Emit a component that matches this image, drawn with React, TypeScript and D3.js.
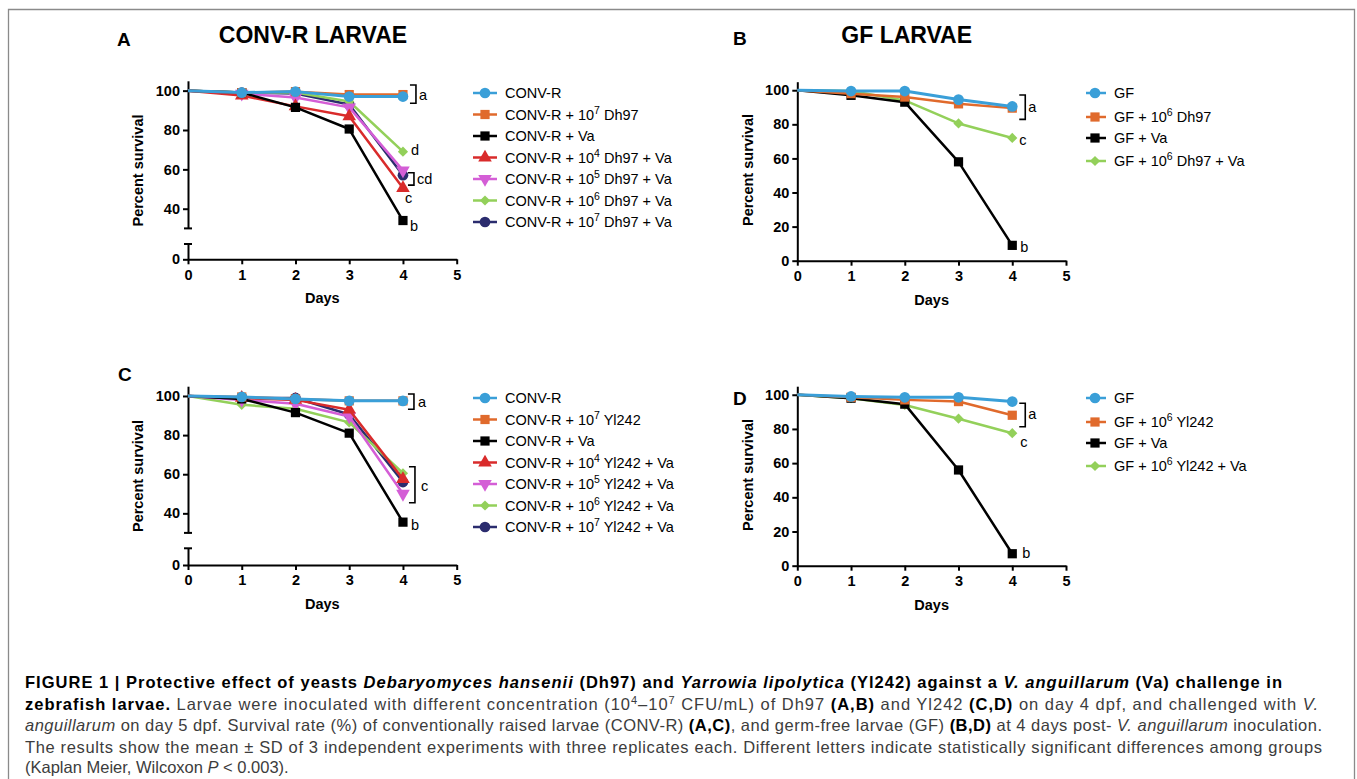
import React, { useEffect, useRef } from 'react';
import * as d3 from 'd3';

// ---- data ----
const days = [0, 1, 2, 3, 4];
const dayTicks = [0, 1, 2, 3, 4, 5];
const brokenTicks = [40, 60, 80, 100];
const fullTicks = [0, 20, 40, 60, 80, 100];

const labelsA = ['CONV-R', 'CONV-R + 10^7 Dh97', 'CONV-R + Va', 'CONV-R + 10^4 Dh97 + Va', 'CONV-R + 10^5 Dh97 + Va', 'CONV-R + 10^6 Dh97 + Va', 'CONV-R + 10^7 Dh97 + Va'];
const labelsB = ['GF', 'GF + 10^6 Dh97', 'GF + Va', 'GF + 10^6 Dh97 + Va'];
const labelsC = ['CONV-R', 'CONV-R + 10^7 Yl242', 'CONV-R + Va', 'CONV-R + 10^4 Yl242 + Va', 'CONV-R + 10^5 Yl242 + Va', 'CONV-R + 10^6 Yl242 + Va', 'CONV-R + 10^7 Yl242 + Va'];
const labelsD = ['GF', 'GF + 10^6 Yl242', 'GF + Va', 'GF + 10^6 Yl242 + Va'];

// panel A: CONV-R + Dh97
const aConv = [100, 99, 99.5, 97, 97];
const aDh7 = [100, 99, 99.5, 98, 98];
const aVa = [100, 99, 91.5, 80.5, 34];
const aDh4Va = [100, 97.5, 92, 87, 50.5];
const aDh5Va = [100, 98.5, 96.5, 91.5, 59.5];
const aDh6Va = [100, 99, 99, 94.5, 69];
const aDh7Va = [100, 99, 98.5, 93, 57];

// panel B: GF + Dh97
const bGf = [100, 99.5, 99.5, 94.5, 90.5];
const bDh6 = [100, 98, 96, 92, 89.5];
const bVa = [100, 97, 93, 58, 9];
const bDh6Va = [100, 99.5, 94, 80.5, 72];

// panel C: CONV-R + Yl242
const cConv = [100, 99.5, 98.5, 97.5, 97.5];
const cYl7 = [100, 99.5, 98.5, 97.5, 97.5];
const cVa = [100, 98.5, 91.5, 81, 35.5];
const cYl4Va = [100, 99, 98, 93, 57.5];
const cYl5Va = [100, 98, 96, 89.5, 50];
const cYl6Va = [100, 95.5, 93.5, 86.5, 60.5];
const cYl7Va = [100, 99, 99, 90.5, 56];

// panel D: GF + Yl242
const dGf = [100, 99, 98.5, 98.5, 96];
const dYl6 = [100, 98.5, 97, 96, 88];
const dVa = [100, 98, 94.5, 56, 7];
const dYl6Va = [100, 98, 94, 86, 77.5];

const colors7 = ['#3a9fd8', '#e06a2c', '#000000', '#d92b2b', '#d45ed6', '#93d05a', '#2b2c6e'];
const shapes7 = ['circle', 'square', 'square', 'triangle', 'triangleDown', 'diamond', 'circle'];
const colors4 = ['#3a9fd8', '#e06a2c', '#000000', '#93d05a'];
const shapes4 = ['circle', 'square', 'square', 'diamond'];

// significance letters: [text, value at day 4, dx] and brackets [top value, bottom value, dx]
const lettersA = [['a', 98, 16], ['d', 70, 8], ['cd', 55.3, 14], ['c', 45.5, 2], ['b', 31.2, 7]];
const bracketsA = [[102.9, 93.6, 13], [58.3, 52, 11]];
const lettersB = [['a', 90, 16], ['c', 70.8, 7], ['b', 8.2, 8]];
const bracketsB = [[97.2, 82.9, 13]];
const lettersC = [['a', 97, 15], ['c', 54.1, 18], ['b', 34, 8]];
const bracketsC = [[101, 93.2, 11], [63.8, 45.4, 12]];
const lettersD = [['a', 88.7, 16], ['c', 72.5, 8], ['b', 7.3, 10]];
const bracketsD = [[95, 81.3, 13]];

const FONT = '"Liberation Sans", Arial, Helvetica, sans-serif';

const panels = [
  {
    series: [aConv, aDh7, aVa, aDh4Va, aDh5Va, aDh6Va, aDh7Va], labels: labelsA, colors: colors7, shapes: shapes7,
    letters: lettersA, brackets: bracketsA,
    x0: 188, x5: 456.7, yZero: 259.3, y30: 228.4, yTop: 80.8, lowerTop: 244, broken: true,
    yLabelX: 143, yLabelY: 170.5, legX: 473, legW: 24, legTextX: 505, legRows: [93, 114.5, 136, 157.5, 179, 200.5, 222],
  },
  {
    series: [bGf, bDh6, bVa, bDh6Va], labels: labelsB, colors: colors4, shapes: shapes4,
    letters: lettersB, brackets: bracketsB,
    x0: 797.3, x5: 1066, yZero: 260.7, yTop: 81.7, broken: false,
    yLabelX: 753, yLabelY: 170, legX: 1086, legW: 20, legTextX: 1114, legRows: [93, 117, 138, 161],
  },
  {
    series: [cConv, cYl7, cVa, cYl4Va, cYl5Va, cYl6Va, cYl7Va], labels: labelsC, colors: colors7, shapes: shapes7,
    letters: lettersC, brackets: bracketsC,
    x0: 188, x5: 456.7, yZero: 565, y30: 532.9, yTop: 386.2, lowerTop: 548.3, broken: true,
    yLabelX: 143, yLabelY: 476, legX: 473, legW: 24, legTextX: 505, legRows: [398, 419.5, 441, 462.5, 484, 505.5, 527],
  },
  {
    series: [dGf, dYl6, dVa, dYl6Va], labels: labelsD, colors: colors4, shapes: shapes4,
    letters: lettersD, brackets: bracketsD,
    x0: 797.3, x5: 1066, yZero: 565.7, yTop: 386.2, broken: false,
    yLabelX: 753, yLabelY: 475, legX: 1086, legW: 20, legTextX: 1114, legRows: [398, 422, 443, 466],
  },
];

function symbolPath(shape: string) {
  if (shape === 'circle') return d3.symbol().type(d3.symbolCircle).size(90)();
  if (shape === 'square') return d3.symbol().type(d3.symbolSquare).size(85)();
  if (shape === 'diamond') return d3.symbol().type(d3.symbolSquare).size(52)();
  return d3.symbol().type(d3.symbolTriangle).size(80)();
}
function symbolRotate(shape: string) {
  if (shape === 'diamond') return 45;
  if (shape === 'triangleDown') return 180;
  return 0;
}

function styleAxis(g: any) {
  g.selectAll('path, line').attr('stroke', '#000').attr('stroke-width', 2);
  g.selectAll('text').attr('font-family', FONT).attr('font-weight', 'bold').attr('font-size', 14.5).attr('fill', '#000');
}

function addLabel(sel: any, label: string, x: number, y: number) {
  const t = sel.append('text').attr('x', x).attr('y', y).attr('font-family', FONT).attr('font-size', 14.5).attr('fill', '#000');
  const m = label.match(/^(.*?10)\^(\d)(.*)$/);
  if (!m) { t.text(label); return; }
  t.append('tspan').text(m[1]);
  t.append('tspan').attr('dy', -6).attr('font-size', 10.5).text(m[2]);
  t.append('tspan').attr('dy', 6).text(m[3]);
}

function drawPanel(root: any, p: any) {
  const g = root.append('g');
  const x = d3.scaleLinear().domain([0, 5]).range([p.x0, p.x5]);
  const fmt = d3.format('d');
  let y: any;
  if (p.broken) {
    y = d3.scaleLinear().domain([30, 105]).range([p.y30, p.yTop]);
    const lower = d3.scaleLinear().domain([0, 8]).range([p.yZero, p.lowerTop]);
    g.append('g').attr('transform', `translate(${p.x0},0)`)
      .call(d3.axisLeft(y).tickValues(brokenTicks).tickFormat(fmt).tickSize(5).tickSizeOuter(0).tickPadding(3)).call(styleAxis);
    g.append('g').attr('transform', `translate(${p.x0},0)`)
      .call(d3.axisLeft(lower).tickValues([0]).tickFormat(fmt).tickSize(5).tickSizeOuter(0).tickPadding(3)).call(styleAxis);
    // break caps
    [y(30), lower(8)].forEach((cy: number) => {
      g.append('line').attr('x1', p.x0 - 4).attr('x2', p.x0 + 4).attr('y1', cy).attr('y2', cy)
        .attr('stroke', '#000').attr('stroke-width', 2);
    });
  } else {
    y = d3.scaleLinear().domain([0, 105]).range([p.yZero, p.yTop]);
    g.append('g').attr('transform', `translate(${p.x0},0)`)
      .call(d3.axisLeft(y).tickValues(fullTicks).tickFormat(fmt).tickSize(5).tickSizeOuter(0).tickPadding(3)).call(styleAxis);
  }
  g.append('g').attr('transform', `translate(0,${p.yZero})`)
    .call(d3.axisBottom(x).tickValues(dayTicks).tickFormat(fmt).tickSize(5).tickSizeOuter(0).tickPadding(5)).call(styleAxis);

  g.append('text').attr('x', (p.x0 + p.x5) / 2).attr('y', p.yZero + 44).attr('text-anchor', 'middle')
    .attr('font-family', FONT).attr('font-weight', 'bold').attr('font-size', 14.5).text('Days');
  g.append('text').attr('transform', `translate(${p.yLabelX},${p.yLabelY}) rotate(-90)`).attr('text-anchor', 'middle')
    .attr('font-family', FONT).attr('font-weight', 'bold').attr('font-size', 14.5).text('Percent survival');

  const line = d3.line<number>().x((d, i) => x(days[i])).y((d) => y(d));
  const order = d3.range(p.series.length).reverse();
  order.forEach((k: number) => {
    const s = p.series[k];
    g.append('path').attr('d', line(s)).attr('fill', 'none').attr('stroke', p.colors[k])
      .attr('stroke-width', k === 0 ? 3 : 2.5).attr('stroke-linejoin', 'round');
    g.selectAll(null).data(s.slice(1)).enter().append('path')
      .attr('d', symbolPath(p.shapes[k]))
      .attr('transform', (d: number, i: number) => `translate(${x(days[i + 1])},${y(d)}) rotate(${symbolRotate(p.shapes[k])})`)
      .attr('fill', p.colors[k]);
  });

  // significance brackets and letters
  p.brackets.forEach(([top, bottom, dx]: number[]) => {
    const bx = x(4) + dx;
    g.append('path').attr('d', `M${bx - 6},${y(top)}H${bx}V${y(bottom)}H${bx - 6}`)
      .attr('fill', 'none').attr('stroke', '#000').attr('stroke-width', 1.6);
  });
  p.letters.forEach(([txt, v, dx]: any[]) => {
    g.append('text').attr('x', x(4) + dx).attr('y', y(v)).attr('dy', '0.35em')
      .attr('font-family', FONT).attr('font-size', 14.5).text(txt);
  });

  // legend
  p.labels.forEach((lab: string, k: number) => {
    const ry = p.legRows[k];
    const cx = p.legX + p.legW / 2;
    g.append('line').attr('x1', p.legX).attr('x2', p.legX + p.legW).attr('y1', ry).attr('y2', ry)
      .attr('stroke', p.colors[k]).attr('stroke-width', 2.5);
    g.append('path').attr('d', symbolPath(p.shapes[k]))
      .attr('transform', `translate(${p.legW === 20 ? p.legX + 9 : cx},${ry}) rotate(${symbolRotate(p.shapes[k])})`)
      .attr('fill', p.colors[k]);
    addLabel(g, lab, p.legTextX, ry + 5);
  });
}

function Caption() {
  const base = { fontFamily: FONT, fontSize: 16.5 };
  const gray = '#3c3c3c';
  return (
    <g style={base}>
      <text x={25} y={688} textLength={1257} lengthAdjust="spacing" fontWeight="bold" fill="#000">
        <tspan>FIGURE 1 | Protective effect of yeasts </tspan>
        <tspan fontStyle="italic">Debaryomyces hansenii</tspan>
        <tspan> (Dh97) and </tspan>
        <tspan fontStyle="italic">Yarrowia lipolytica</tspan>
        <tspan> (Yl242) against a </tspan>
        <tspan fontStyle="italic">V. anguillarum</tspan>
        <tspan> (Va) challenge in</tspan>
      </text>
      <text x={25} y={709.5} textLength={1293} lengthAdjust="spacing" fill={gray}>
        <tspan fontWeight="bold" fill="#000">zebrafish larvae.</tspan>
        <tspan> Larvae were inoculated with different concentration (10</tspan>
        <tspan fontSize={11} dy={-6}>4</tspan>
        <tspan dy={6}>–10</tspan>
        <tspan fontSize={11} dy={-6}>7</tspan>
        <tspan dy={6}> CFU/mL) of Dh97 </tspan>
        <tspan fontWeight="bold" fill="#000">(A,B)</tspan>
        <tspan> and Yl242 </tspan>
        <tspan fontWeight="bold" fill="#000">(C,D)</tspan>
        <tspan> on day 4 dpf, and challenged with </tspan>
        <tspan fontStyle="italic">V.</tspan>
      </text>
      <text x={25} y={731} textLength={1297} lengthAdjust="spacing" fill={gray}>
        <tspan fontStyle="italic">anguillarum</tspan>
        <tspan> on day 5 dpf. Survival rate (%) of conventionally raised larvae (CONV-R) </tspan>
        <tspan fontWeight="bold" fill="#000">(A,C)</tspan>
        <tspan>, and germ-free larvae (GF) </tspan>
        <tspan fontWeight="bold" fill="#000">(B,D)</tspan>
        <tspan> at 4 days post- </tspan>
        <tspan fontStyle="italic">V. anguillarum</tspan>
        <tspan> inoculation.</tspan>
      </text>
      <text x={25} y={752.5} textLength={1297} lengthAdjust="spacing" fill={gray}>
        The results show the mean ± SD of 3 independent experiments with three replicates each. Different letters indicate statistically significant differences among groups
      </text>
      <text x={25} y={773} fill={gray}>
        <tspan>(Kaplan Meier, Wilcoxon </tspan>
        <tspan fontStyle="italic">P</tspan>
        <tspan> {'<'} 0.003).</tspan>
      </text>
    </g>
  );
}

export default function App() {
  const ref = useRef<SVGGElement>(null);

  useEffect(() => {
    const root = d3.select(ref.current);
    root.selectAll('*').remove();
    panels.forEach((p) => drawPanel(root, p));
  }, []);

  const title = { fontFamily: FONT, fontWeight: 'bold' as const };
  return (
    <svg width={1357} height={779} style={{ position: 'absolute', left: 0, top: 0, background: '#fff' }}>
      <rect x={0} y={0} width={1357} height={779} fill="#fff" />
      <path d="M8.5,800V9.5H1354.5V800" fill="none" stroke="#8a8a8a" strokeWidth={1.3} />
      <text x={117} y={46} fontSize={19} {...title}>A</text>
      <text x={733} y={45} fontSize={19} {...title}>B</text>
      <text x={118} y={381} fontSize={19} {...title}>C</text>
      <text x={733} y={405} fontSize={19} {...title}>D</text>
      <text x={313} y={43} fontSize={23} textAnchor="middle" {...title}>CONV-R LARVAE</text>
      <text x={906.7} y={43} fontSize={23} textAnchor="middle" {...title}>GF LARVAE</text>
      <g ref={ref} />
      <Caption />
    </svg>
  );
}
